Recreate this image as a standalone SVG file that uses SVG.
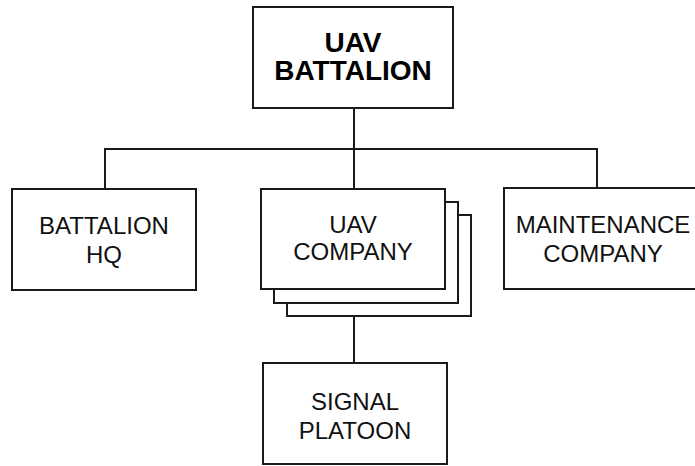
<svg xmlns="http://www.w3.org/2000/svg" width="695" height="466" viewBox="0 0 695 466">
<style>
.box{fill:#fff;stroke:#1a1a1a;stroke-width:2}
.ln{fill:none;stroke:#1a1a1a;stroke-width:2}
.t{font-family:"Liberation Sans",Arial,sans-serif;font-size:24px;fill:#111;text-anchor:middle}
.tb{font-family:"Liberation Sans",Arial,sans-serif;font-size:28px;font-weight:bold;fill:#000;text-anchor:middle}
</style>
<rect width="695" height="466" fill="#fff"/>
<g id="connectors" class="ln">
<line x1="354" y1="108" x2="354" y2="189"/>
<polyline points="105,189 105,149 597,149 597,188"/>
<line x1="354" y1="316" x2="354" y2="363"/>
</g>
<g id="uav-battalion">
<rect class="box" x="253" y="7" width="200" height="101"/>
<text class="tb" x="353" y="52">UAV</text>
<text class="tb" x="353" y="80">BATTALION</text>
</g>
<g id="battalion-hq">
<rect class="box" x="12" y="189" width="184" height="101"/>
<text class="t" x="104" y="234">BATTALION</text>
<text class="t" x="104" y="263">HQ</text>
</g>
<g id="uav-company">
<rect class="box" x="287" y="215" width="184" height="101"/>
<rect class="box" x="274" y="202" width="184" height="101"/>
<rect class="box" x="261" y="189" width="184" height="100"/>
<text class="t" x="353" y="233">UAV</text>
<text class="t" x="353" y="260">COMPANY</text>
</g>
<g id="maintenance-company">
<rect class="box" x="504" y="188" width="200" height="101"/>
<text class="t" x="603" y="232.5">MAINTENANCE</text>
<text class="t" x="603" y="261.5">COMPANY</text>
</g>
<g id="signal-platoon">
<rect class="box" x="263" y="363" width="184" height="101"/>
<text class="t" x="355" y="410">SIGNAL</text>
<text class="t" x="355" y="439">PLATOON</text>
</g>
</svg>
